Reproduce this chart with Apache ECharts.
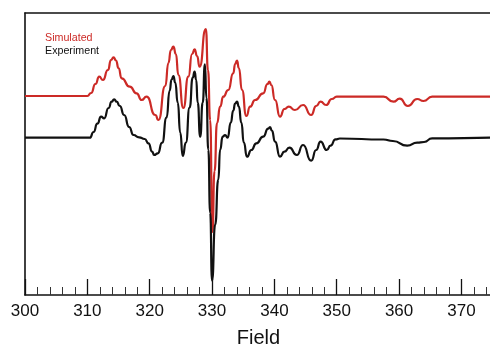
<!DOCTYPE html>
<html>
<head>
<meta charset="utf-8">
<script src="https://cdn.jsdelivr.net/npm/echarts@6/dist/echarts.min.js"></script>
<style>
  html, body { margin: 0; padding: 0; background: #fff; }
  #chart { width: 490px; height: 351px; }
</style>
</head>
<body>
<div id="chart"></div>
<script>
// EPR derivative spectra (arbitrary intensity units, baseline = 0)
const simField = [300, 310.0, 310.6, 311.3, 311.9, 312.5, 313.3, 313.8, 314.2, 314.6, 315.0, 315.5, 316.8, 317.9, 318.7, 319.5,
  320.9, 321.4, 322.5, 323.0, 323.4, 323.8, 324.2, 324.6, 325.4, 326.2, 326.8, 327.2, 327.6, 328.0, 329.0, 329.35,
  329.7, 330.05, 330.4, 330.8, 331.3, 331.8, 332.6, 333.4, 333.7, 334.0, 334.3, 334.8, 335.5, 336.1, 336.9, 338.2,
  338.9, 339.2, 339.5, 340.1, 340.9, 341.6, 342.3, 343.3, 344.6, 345.9, 346.7, 347.4, 348.3, 349.2, 350.0, 357.5,
  359.1, 360.1, 361.4, 362.9, 363.9, 365.3, 375];
const simSignal = [0, 0, 3, 12, 19.3, 16, 26, 36, 38.7, 35.5, 28, 17.7, 9.3, 2.7, -4, -0.7,
  -19, -24, 10, 33, 46, 49.3, 42, 21, -12, 19.3, 42, 46.7, 40, 29.3, 67, 26,
  -24, -136, -75, -27, -10.7, -0.7, 6, 22.7, 32, 35.3, 28, 6, -20, -10.7, -4, 2.7,
  12, 14.3, 11, -4, -20.7, -13, -10.7, -14, -9, -19, -10, -5.7, -9, -3, -0.7, -0.7,
  -5.7, -2.7, -10, -3, -5, -0.7, -0.7];

const expField = [300, 310.4, 311.0, 311.6, 312.2, 312.7, 313.4, 313.9, 314.3, 314.7, 315.2, 315.9, 316.7, 317.4, 318.3, 319.2,
  319.8, 320.4, 320.7, 321.3, 322.0, 322.7, 323.2, 323.5, 323.8, 324.1, 324.5, 324.9, 325.3, 325.8, 326.4, 326.9,
  327.2, 327.45, 327.7, 328.1, 328.5, 328.85, 329.1, 329.4, 329.7, 330.0, 330.5, 331.0, 331.3, 331.7, 332.1, 332.5,
  333.0, 333.4, 333.7, 334.0, 334.3, 334.7, 335.1, 335.6, 336.3, 337.1, 338.2, 339.0, 339.3, 339.6, 340.1, 340.9,
  341.6, 342.4, 343.6, 344.6, 345.9, 346.7, 347.4, 348.4, 349.0, 349.8, 350.5, 357.5, 359.0, 361.3, 362.9, 364.0,
  365.3, 375];
const expSignal = [0, 0, 5.7, 14, 21, 19.4, 29.7, 36, 38.4, 36, 31.7, 22.7, 10.7, 2.7, 0.4, -1.3,
  -5.6, -14, -17.3, -15.6, -5, 20, 47, 58, 61.7, 55, 35, 5, -18.3, -5, 30, 60,
  66, 58, 35, 1, 35, 73.4, 40, -12, -75, -143, -87, -42, -12, 1, 2.7, 0,
  15, 27, 34, 36, 31, 15, -5, -19, -12.3, -5.6, 1, 9, 10.7, 7, -4, -19,
  -14, -10, -17.3, -7.3, -23, -12.3, -4, -12.3, -8, -1.6, -0.8, -1.8, -3.3, -8, -5, -4.3,
  -0.6, 0.2];

// vertical offset of the simulated trace above the experimental one
const simOffset = 41.7;

const tickLabels = ['300', '310', '320', '330', '340', '350', '360', '370'];

const font = '"Liberation Sans", Arial, Helvetica, sans-serif';
const simData = simField.map((f, i) => [f, simSignal[i] + simOffset]);
const expData = expField.map((f, i) => [f, expSignal[i]]);

const frame = { color: '#111', width: 1.6 };

const chart = echarts.init(document.getElementById('chart'));
chart.setOption({
  animation: false,
  backgroundColor: '#fff',
  grid: { left: 25, top: 13, width: 467, height: 282, outerBoundsMode: 'none', containLabel: false },
  xAxis: [
    {
      type: 'value', min: 300, max: 374.9, interval: 10, position: 'bottom',
      name: 'Field', nameLocation: 'middle', nameGap: 33,
      nameTextStyle: { fontFamily: font, fontSize: 20, color: '#111' },
      axisLine: { show: true, onZero: false, lineStyle: frame },
      axisTick: { show: true, inside: true, length: 16, lineStyle: { color: '#111', width: 1.3 } },
      minorTick: { show: true, splitNumber: 5, length: 8, lineStyle: { color: '#333', width: 1 } },
      axisLabel: {
        fontFamily: font, fontSize: 17, color: '#111', margin: 8,
        formatter: v => tickLabels.includes(String(v)) ? String(v) : ''
      },
      splitLine: { show: false }
    },
    {
      // top edge of the plot frame
      type: 'value', min: 300, max: 374.9, position: 'top',
      axisLine: { show: true, onZero: false, lineStyle: frame },
      axisTick: { show: false }, axisLabel: { show: false }, splitLine: { show: false }
    }
  ],
  yAxis: {
    type: 'value', min: -157.3, max: 124.7,
    axisLine: { show: true, onZero: false, lineStyle: frame },
    axisTick: { show: false }, axisLabel: { show: false }, splitLine: { show: false }
  },
  graphic: [
    { type: 'text', left: 45, top: 33, style: { text: 'Simulated', fill: '#cc2a26', font: '10.7px ' + font } },
    { type: 'text', left: 45, top: 46, style: { text: 'Experiment', fill: '#111', font: '10.7px ' + font } }
  ],
  series: [
    {
      name: 'Simulated', type: 'line', data: simData, showSymbol: false,
      smooth: 0.6, smoothMonotone: 'x',
      lineStyle: { color: '#cc2a26', width: 2.2 }, z: 2
    },
    {
      name: 'Experiment', type: 'line', data: expData, showSymbol: false,
      smooth: 0.6, smoothMonotone: 'x',
      lineStyle: { color: '#111', width: 2.2 }, z: 3
    }
  ]
});
</script>
</body>
</html>
